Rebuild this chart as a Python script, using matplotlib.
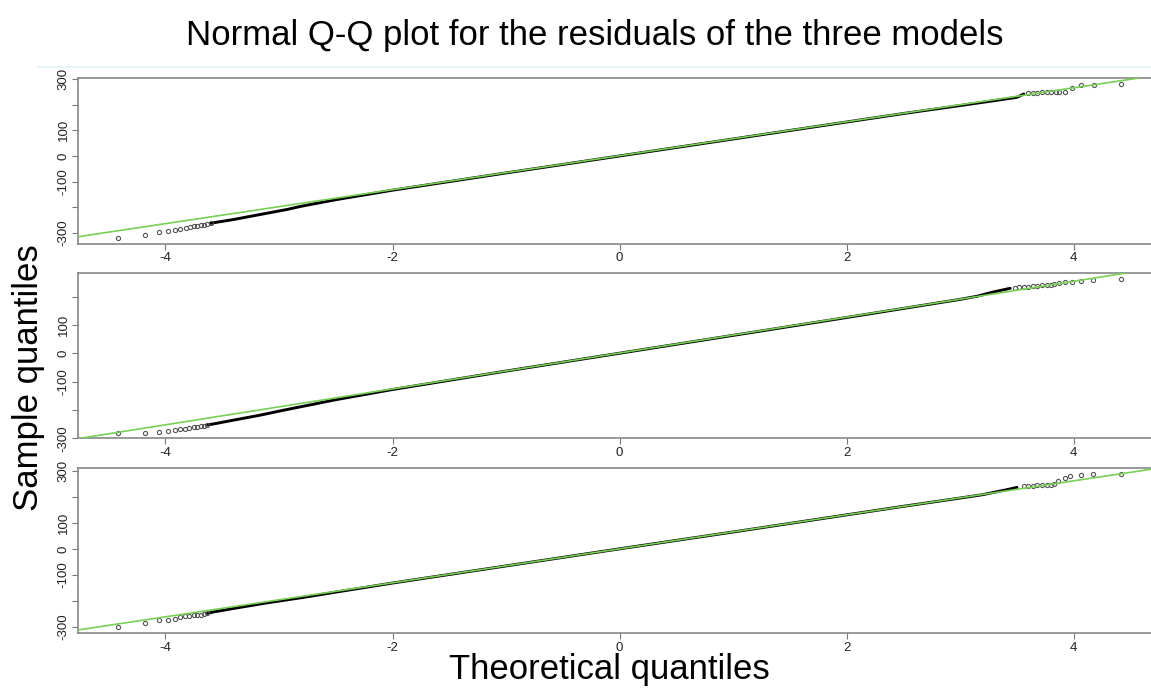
import matplotlib
matplotlib.use("Agg")
import matplotlib.pyplot as plt
from matplotlib.lines import Line2D

plt.rcParams['font.family'] = ['Liberation Sans', 'DejaVu Sans']

# panel 1
p1_tail_lo_x = [-4.42, -4.18, -4.06, -3.98, -3.92, -3.87, -3.82, -3.78, -3.75, -3.72, -3.69, -3.66, -3.63, -3.60]
p1_tail_lo_y = [-320, -306, -297, -292, -288, -284, -279, -277, -274, -272, -270, -268, -265, -262]
p1_body_x = [-3.60, -3.57, -3.40, -3.10, -2.93, -2.81, -2.5, -2.0, -1.0, 0, 1.0, 2.0, 2.5, 3.0, 3.3, 3.5, 3.56]
p1_body_y = [-262, -259, -247, -222, -208, -196, -170, -133, -66, 0, 66, 132, 165, 196, 215, 228, 241]
p1_tail_hi_x = [3.60, 3.64, 3.68, 3.72, 3.76, 3.80, 3.84, 3.87, 3.92, 3.98, 4.06, 4.18, 4.42]
p1_tail_hi_y = [243, 245, 246, 247, 247, 248, 248, 249, 249, 263, 274, 277, 279]
p1_ref = (66.0, 1.0)
p1_yticks = [-300, -200, -100, 0, 100, 200, 300]
p1_ylabels = ['-300', '', '-100', '0', '100', '', '300']

# panel 2
p2_tail_lo_x = [-4.42, -4.18, -4.06, -3.98, -3.92, -3.87, -3.83, -3.79, -3.75, -3.72, -3.69, -3.66, -3.63]
p2_tail_lo_y = [-283, -280, -278, -274, -271, -269, -266, -263, -261, -259, -258, -256, -253]
p2_body_x = [-3.63, -3.57, -3.40, -3.16, -2.96, -2.81, -2.5, -2.0, -1.0, 0, 1.0, 2.0, 2.5, 3.0, 3.15, 3.27, 3.44]
p2_body_y = [-253, -249, -236, -218, -201, -189, -164, -128, -63, 0, 63, 126, 158, 190, 201, 214, 229]
p2_tail_hi_x = [3.48, 3.52, 3.56, 3.60, 3.64, 3.68, 3.72, 3.76, 3.80, 3.83, 3.87, 3.92, 3.98, 4.06, 4.17, 4.42]
p2_tail_hi_y = [231, 233, 234, 235, 236, 238, 239, 241, 242, 244, 248, 250, 251, 254, 258, 261]
p2_ref = (63.3, 0.7)
p2_yticks = [-300, -200, -100, 0, 100, 200]
p2_ylabels = ['-300', '', '-100', '0', '100', '']

# panel 3
p3_tail_lo_x = [-4.42, -4.18, -4.06, -3.98, -3.92, -3.87, -3.83, -3.79, -3.75, -3.72, -3.69, -3.66, -3.63]
p3_tail_lo_y = [-302, -287, -273, -272, -271, -261, -258, -257, -255, -254, -253, -251, -248]
p3_body_x = [-3.63, -3.57, -3.40, -3.10, -2.81, -2.5, -2.0, -1.0, 0, 1.0, 2.0, 2.5, 3.0, 3.2, 3.42, 3.50]
p3_body_y = [-248, -242, -229, -207, -188, -166, -131, -65, 1, 66, 132, 165, 197, 210, 230, 238]
p3_tail_hi_x = [3.56, 3.60, 3.64, 3.68, 3.72, 3.76, 3.80, 3.83, 3.86, 3.92, 3.97, 4.06, 4.17, 4.42]
p3_tail_hi_y = [243, 244, 245, 246, 247, 248, 249, 250, 263, 275, 281, 287, 289, 291]
p3_ref = (65.6, 1.0)
p3_yticks = [-300, -200, -100, 0, 100, 200, 300]
p3_ylabels = ['-300', '', '-100', '0', '100', '', '300']

x_ticks = [-4, -2, 0, 2, 4]

panels = [
    (p1_tail_lo_x, p1_tail_lo_y, p1_body_x, p1_body_y, p1_tail_hi_x, p1_tail_hi_y, p1_ref,
     p1_yticks, p1_ylabels, (-342, 303), 0.6459, 0.8868),
    (p2_tail_lo_x, p2_tail_lo_y, p2_body_x, p2_body_y, p2_tail_hi_x, p2_tail_hi_y, p2_ref,
     p2_yticks, p2_ylabels, (-300, 284), 0.3639, 0.6042),
    (p3_tail_lo_x, p3_tail_lo_y, p3_body_x, p3_body_y, p3_tail_hi_x, p3_tail_hi_y, p3_ref,
     p3_yticks, p3_ylabels, (-325, 314), 0.0808, 0.3212),
]

fig = plt.figure(figsize=(11.51, 6.89), dpi=100)
left = 78 / 1151

for lox, loy, bx, by, hix, hiy, ref, yt, yl, ylim, bot, top in panels:
    ax = fig.add_axes([left, bot, 1.0 - left, top - bot])
    ax.axline((0, ref[1]), slope=ref[0], color='#78d055', lw=1.2, zorder=3)
    ax.plot(bx, by, color='black', lw=2.1, solid_capstyle='round', zorder=2)
    ax.plot(lox + hix, loy + hiy, linestyle='none', marker='o', ms=3.0,
            mfc='none', mec='#555555', mew=0.8, zorder=2)
    ax.set_xlim(-4.77, 4.68)
    ax.set_ylim(*ylim)
    ax.set_xticks(x_ticks)
    ax.set_xticklabels([str(t) for t in x_ticks])
    ax.set_yticks(yt)
    ax.set_yticklabels(yl, rotation=90, va='center')
    ax.tick_params(axis='both', length=4, width=0.8, color='#777777',
                   labelcolor='#222222', labelsize=9.5, pad=2)
    for s in ['left', 'bottom', 'top']:
        ax.spines[s].set_color('#888888')
        ax.spines[s].set_linewidth(1.2)
    ax.spines['right'].set_visible(False)

# faint slide rule under the title
fig.add_artist(Line2D([38 / 1151, 1.0], [1 - 66.5 / 689] * 2, color='#dff3f8', lw=1.2))

fig.text(595 / 1151, 1 - 35 / 689, 'Normal Q-Q plot for the residuals of the three models',
         ha='center', va='center', fontsize=25, color='black')
fig.text(609 / 1151, 1 - 670 / 689, 'Theoretical quantiles',
         ha='center', va='center', fontsize=25, color='black')
fig.text(29 / 1151, 1 - 378 / 689, 'Sample quantiles', rotation=90,
         ha='center', va='center', fontsize=25, color='black')

fig.savefig('out.png', dpi=100)
